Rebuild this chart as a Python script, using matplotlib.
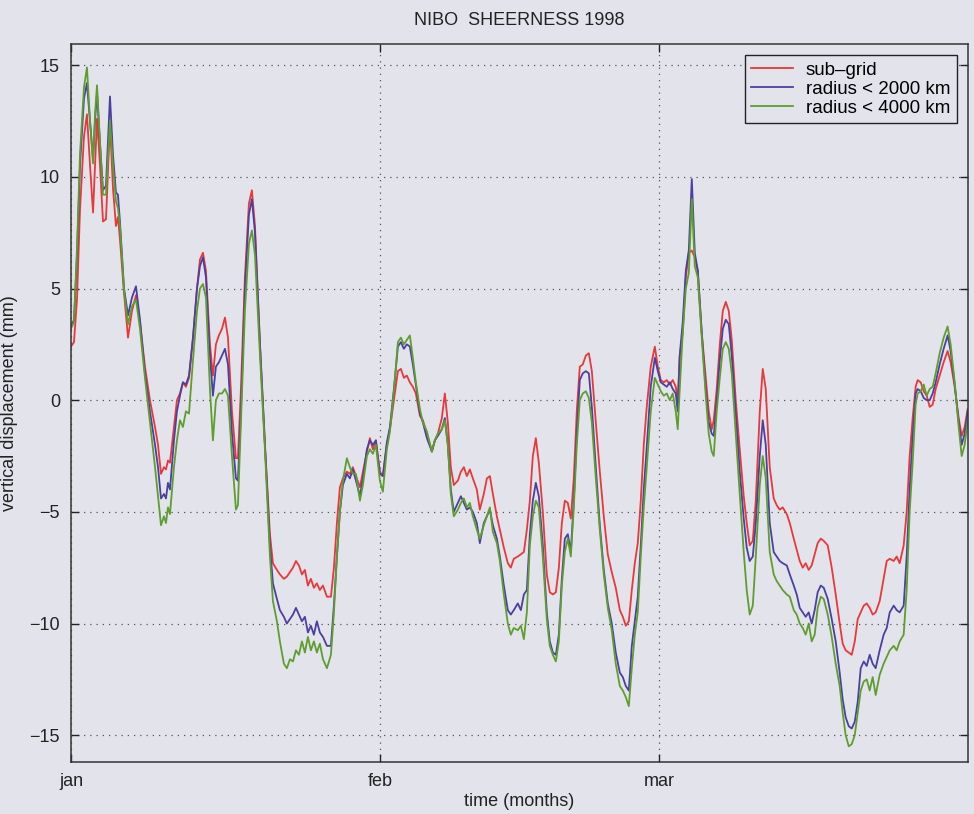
import matplotlib
matplotlib.use("Agg")
import matplotlib.pyplot as plt
import numpy as np

plt.rcParams['font.family'] = ['Liberation Sans', 'DejaVu Sans']

# time in days from 1 Jan 1998
days = [0.0, 0.30, 0.60, 0.90, 1.30, 1.60, 1.91, 2.21, 2.41, 2.61, 2.91, 3.21, 3.51, 3.91,
        4.21, 4.51, 4.71, 4.91, 5.32, 5.72, 6.12, 6.52, 6.92, 7.42, 7.92, 8.43, 8.73, 9.03,
        9.33, 9.53, 9.73, 9.93, 10.33, 10.63, 10.93, 11.23, 11.53, 11.84, 12.24, 12.64, 12.94,
        13.24, 13.54, 13.94, 14.24, 14.54, 14.84, 15.15, 15.45, 15.75, 16.15, 16.55, 16.75,
        17.05, 17.45, 17.85, 18.15, 18.46, 18.96, 19.46, 19.96, 20.26, 20.66, 20.96, 21.36,
        21.66, 21.97, 22.27, 22.57, 22.87, 23.17, 23.47, 23.77, 24.07, 24.37, 24.67, 24.97,
        25.28, 25.68, 26.08, 26.38, 26.68, 26.98, 27.28, 27.68, 27.98, 28.28, 28.59, 28.99,
        29.29, 29.69, 29.99, 30.29, 30.59, 30.99, 31.29, 31.69, 32.00, 32.40, 32.80, 33.10,
        33.40, 33.70, 34.00, 34.30, 34.60, 35.01, 35.31, 35.71, 36.21, 36.51, 36.81, 37.21,
        37.51, 37.81, 38.11, 38.41, 38.82, 39.12, 39.42, 39.72, 40.02, 40.32, 40.72, 41.02,
        41.42, 41.73, 42.03, 42.33, 42.73, 43.03, 43.43, 43.83, 44.13, 44.43, 44.83, 45.14,
        45.44, 45.74, 46.04, 46.34, 46.64, 46.94, 47.34, 47.74, 48.04, 48.35, 48.65, 48.95,
        49.25, 49.55, 49.85, 50.15, 50.45, 50.75, 51.05, 51.35, 51.66, 51.96, 52.26, 52.66,
        53.06, 53.46, 53.86, 54.26, 54.66, 55.07, 55.37, 55.67, 55.97, 56.27, 56.57, 56.87,
        57.17, 57.47, 57.77, 58.17, 58.58, 58.88, 59.18, 59.48, 59.78, 60.08, 60.38, 60.68,
        60.88, 61.08, 61.38, 61.69, 61.99, 62.29, 62.59, 62.89, 63.29, 63.69, 63.99, 64.29,
        64.49, 64.79, 65.10, 65.40, 65.70, 66.00, 66.30, 66.70, 67.10, 67.50, 67.80, 68.10,
        68.41, 68.71, 69.11, 69.41, 69.71, 70.11, 70.51, 70.81, 71.11, 71.41, 71.82, 72.12,
        72.52, 72.82, 73.12, 73.42, 73.72, 74.02, 74.32, 74.62, 74.92, 75.23, 75.53, 75.93,
        76.33, 76.73, 77.13, 77.43, 77.73, 78.04, 78.34, 78.64, 78.94, 79.24, 79.54, 79.84,
        80.14, 80.44, 80.74, 81.14, 81.54, 81.85, 82.15, 82.55, 82.85, 83.15, 83.55, 83.85,
        84.15, 84.45, 84.75, 84.95, 85.26, 85.56, 85.86, 86.16, 86.46, 86.76, 87.16, 87.56,
        87.96, 88.26, 88.67, 89.07, 89.37, 89.67, 89.97]

# sub-grid
sub_grid = [2.4, 2.6, 4.5, 8.5, 11.8, 12.8, 10.5, 8.4, 10.5, 12.6, 10.5, 8.0, 8.1, 12.4,
            9.5, 7.8, 8.2, 7.2, 4.8, 2.8, 4.0, 4.7, 3.5, 1.5, 0.0, -1.2, -2.0, -3.3,
            -3.0, -3.1, -2.7, -2.8, -1.2, 0.0, 0.3, 0.8, 0.6, 1.0, 2.8, 5.0, 6.3,
            6.6, 5.8, 2.5, 1.1, 2.5, 2.9, 3.2, 3.7, 2.8, -0.5, -2.6, -2.6,
            0.5, 5.5, 8.8, 9.4, 7.8, 2.5, -2.0, -6.0, -7.3, -7.6, -7.8, -8.0,
            -7.9, -7.7, -7.5, -7.2, -7.4, -7.8, -7.6, -8.3, -8.0, -8.4, -8.2, -8.5,
            -8.3, -8.8, -8.8, -7.5, -5.5, -3.9, -3.5, -3.2, -3.3, -3.0, -3.4, -3.9,
            -3.2, -2.3, -1.7, -2.2, -1.8, -3.2, -3.4, -2.0, -1.3, 0.0, 1.3, 1.4,
            1.0, 1.1, 0.8, 0.6, 0.3, -0.7, -0.9, -1.5, -2.3, -1.8, -1.5, -0.8,
            0.3, -1.0, -3.0, -3.8, -3.6, -3.2, -3.0, -3.4, -3.1, -3.5, -4.0, -4.9,
            -4.2, -3.5, -3.4, -4.2, -5.2, -5.8, -6.6, -7.3, -7.5, -7.1, -7.0, -6.9,
            -6.8, -5.8, -4.5, -2.5, -1.7, -2.8, -5.0, -7.8, -8.6, -8.7, -8.6, -7.5,
            -5.5, -4.5, -4.6, -5.3, -3.5, -0.5, 1.5, 1.6, 2.0, 2.1, 1.3, -1.0,
            -3.2, -5.2, -6.9, -7.7, -8.4, -9.4, -9.7, -10.1, -9.9, -8.5, -7.3, -6.4,
            -4.5, -2.0, -0.3, 1.5, 2.4, 1.5, 0.9, 0.8, 0.9, 0.7, 0.9, 0.6,
            0.0, 2.0, 3.0, 5.5, 6.6, 6.7, 6.4, 5.8, 3.0, 1.0, -0.5, -1.3,
            -0.9, 0.5, 2.5, 4.0, 4.4, 4.0, 2.7, 0.0, -2.2, -4.3, -5.5, -6.5,
            -6.3, -4.5, -0.5, 1.4, 0.5, -3.0, -4.4, -4.7, -4.9, -4.8, -5.1, -5.5,
            -6.2, -6.7, -7.2, -7.5, -7.3, -7.6, -7.4, -6.9, -6.4, -6.2, -6.3, -6.5,
            -7.5, -8.7, -10.0, -10.9, -11.2, -11.3, -11.4, -10.8, -9.8, -9.5, -9.2, -9.1,
            -9.3, -9.6, -9.5, -9.0, -8.0, -7.2, -7.1, -7.2, -7.0, -7.3, -6.5, -5.0,
            -2.5, -0.8, 0.6, 0.9, 0.8, 0.4, 0.2, -0.3, -0.2, 0.5, 1.1, 1.7,
            2.2, 1.7, 0.6, -0.8, -1.6, -1.2, -0.4]

# radius < 2000 km
radius_2000 = [3.3, 3.6, 6.5, 10.5, 13.5, 14.2, 12.5, 10.8, 12.5, 13.8, 11.5, 9.4, 9.6, 13.6,
               11.0, 9.3, 9.2, 8.0, 5.0, 3.8, 4.6, 5.1, 3.6, 1.2, -0.5, -2.0, -3.0, -4.4,
               -4.2, -4.4, -3.7, -4.0, -1.8, -0.5, 0.2, 0.8, 0.7, 1.1, 2.8, 5.0, 6.0,
               6.4, 5.5, 2.0, 0.2, 1.5, 1.7, 2.0, 2.3, 1.6, -1.5, -3.5, -3.6,
               -0.5, 5.0, 8.3, 9.0, 7.5, 2.5, -2.0, -6.5, -8.2, -8.9, -9.4, -9.7,
               -10.0, -9.8, -9.6, -9.3, -9.6, -9.9, -9.7, -10.4, -10.1, -10.5, -9.9, -10.4,
               -10.6, -11.0, -11.0, -9.2, -7.0, -5.0, -3.8, -3.3, -3.5, -3.1, -3.6, -4.3,
               -3.5, -2.2, -1.8, -2.0, -1.8, -3.3, -3.4, -1.9, -1.2, 0.5, 2.4, 2.6,
               2.3, 2.5, 2.4, 1.6, 0.7, -0.6, -1.0, -1.7, -2.3, -1.8, -1.6, -1.3,
               -0.8, -2.0, -4.0, -5.0, -4.6, -4.3, -4.6, -4.9, -4.8, -5.0, -5.5, -6.4,
               -5.5, -5.2, -4.9, -5.6, -6.2, -7.0, -8.3, -9.4, -9.6, -9.4, -9.1, -9.4,
               -8.7, -8.5, -6.0, -4.5, -3.7, -4.3, -6.5, -9.5, -10.8, -11.3, -11.4, -10.5,
               -8.0, -6.2, -6.0, -6.8, -4.5, -1.5, 0.9, 1.2, 1.3, 1.2, -0.3, -3.0,
               -5.6, -7.6, -9.1, -10.0, -11.3, -12.2, -12.4, -12.8, -13.0, -11.0, -9.9, -8.8,
               -6.5, -4.0, -2.1, 0.6, 1.9, 1.3, 0.8, 0.7, 0.6, 0.8, 0.5, 0.3,
               -0.5, 2.0, 3.5, 5.8, 6.7, 9.9, 6.6, 5.8, 3.0, 0.5, -1.0, -1.5,
               -1.6, 0.0, 1.8, 3.2, 3.6, 3.4, 2.0, -0.6, -3.2, -5.3, -6.6, -7.2,
               -7.0, -5.5, -2.5, -0.9, -2.0, -5.5, -6.8, -7.0, -7.2, -7.3, -7.4, -7.8,
               -8.3, -8.7, -9.3, -9.5, -9.7, -9.5, -10.0, -9.4, -8.6, -8.3, -8.4, -8.9,
               -9.8, -10.8, -12.2, -13.4, -14.2, -14.6, -14.7, -14.4, -13.5, -12.0, -11.7, -11.9,
               -11.4, -11.8, -12.0, -11.2, -10.5, -10.2, -9.5, -9.2, -9.4, -9.5, -9.2, -7.0,
               -4.0, -1.6, 0.3, 0.5, 0.4, 0.1, 0.0, 0.0, 0.3, 0.8, 1.6, 2.3,
               2.9, 2.2, 0.7, -1.0, -2.0, -1.5, -0.5]

# radius < 4000 km
radius_4000 = [3.2, 3.5, 6.8, 11.0, 14.0, 14.9, 12.5, 10.6, 12.8, 14.1, 11.5, 9.2, 9.2, 12.5,
               10.5, 8.9, 8.6, 7.8, 4.9, 3.4, 4.2, 4.5, 3.2, 1.0, -1.0, -3.0, -4.3, -5.6,
               -5.2, -5.5, -4.8, -5.1, -3.0, -1.8, -0.9, -1.2, -0.5, -0.6, 1.8, 4.0, 5.0,
               5.2, 4.6, 0.5, -1.8, 0.0, 0.3, 0.3, 0.5, 0.2, -2.5, -4.9, -4.7,
               -1.0, 4.0, 7.0, 7.6, 6.5, 2.0, -2.2, -7.0, -9.0, -9.9, -10.8, -11.8,
               -12.0, -11.6, -11.7, -11.2, -11.4, -10.8, -11.3, -10.6, -11.2, -10.8, -11.3, -10.9,
               -11.6, -12.0, -11.4, -9.5, -7.0, -5.0, -3.6, -2.6, -3.0, -3.3, -3.3, -4.5,
               -3.8, -2.5, -2.2, -2.4, -2.0, -3.6, -4.1, -2.2, -1.4, 0.4, 2.6, 2.8,
               2.5, 2.7, 2.9, 1.9, 0.8, -0.4, -1.0, -1.4, -2.3, -1.8, -1.5, -1.3,
               -0.9, -2.0, -4.2, -5.2, -4.9, -4.6, -4.4, -4.8, -4.6, -5.2, -5.8, -6.2,
               -5.6, -5.2, -4.8, -5.9, -6.4, -7.2, -8.7, -10.0, -10.5, -10.2, -10.3, -10.1,
               -10.7, -9.5, -6.5, -5.2, -4.5, -4.8, -7.0, -9.8, -11.0, -11.4, -11.7, -10.8,
               -8.3, -6.8, -6.2, -7.0, -4.8, -2.0, 0.0, 0.3, 0.4, 0.1, -1.0, -3.5,
               -5.8, -7.8, -9.3, -10.3, -11.8, -12.8, -13.0, -13.3, -13.7, -12.0, -10.5, -9.5,
               -7.0, -4.8, -3.0, -0.5, 1.0, 0.7, 0.4, 0.2, 0.3, 0.0, 0.3, -0.5,
               -1.3, 0.5, 3.0, 5.0, 5.7, 9.0, 6.0, 5.5, 2.8, 0.2, -1.5, -2.3,
               -2.5, -0.5, 1.0, 2.3, 2.6, 2.3, 1.2, -1.5, -4.2, -6.8, -8.5, -9.6,
               -9.2, -7.0, -3.8, -2.5, -3.5, -6.8, -7.8, -8.1, -8.3, -8.5, -8.7, -8.8,
               -9.4, -9.6, -10.0, -10.2, -10.5, -10.0, -10.8, -10.5, -9.3, -8.8, -8.9, -9.6,
               -10.6, -11.8, -12.8, -14.0, -15.0, -15.5, -15.4, -15.0, -14.0, -13.0, -12.6, -12.5,
               -13.0, -12.4, -13.2, -12.3, -11.8, -11.5, -11.2, -11.0, -11.2, -10.8, -10.5, -8.5,
               -5.0, -2.8, -0.2, 0.3, 0.4, 0.7, 0.2, 0.5, 0.6, 1.2, 2.1, 2.8,
               3.3, 2.5, 0.8, -1.2, -2.5, -2.0, -0.9]

month_ticks = [0, 31, 59]
month_labels = ['jan', 'feb', 'mar']

bg = '#e3e3eb'
fig = plt.figure(figsize=(9.74, 8.14), dpi=100, facecolor=bg)
ax = fig.add_axes([0.0729, 0.0639, 0.9209, 0.8821], facecolor=bg)

ax.plot(days, sub_grid, color='#e8383a', lw=1.3, label='sub\u2013grid')
ax.plot(days, radius_2000, color='#4a40a0', lw=1.3, label='radius < 2000 km')
ax.plot(days, radius_4000, color='#5e9e2e', lw=1.3, label='radius < 4000 km')

ax.set_xlim(0, 90)
ax.set_ylim(-16.2, 15.95)
ax.set_xticks(month_ticks)
ax.set_xticklabels(month_labels)
ax.set_yticks([-15, -10, -5, 0, 5, 10, 15])
ax.tick_params(direction='in', length=6, width=1, top=True, right=True,
               labelsize=13, colors='#222222', pad=8)
ax.grid(True, linestyle=(0, (1, 4)), color='#555555', linewidth=0.9)
for s in ax.spines.values():
    s.set_color('#333333')
    s.set_linewidth(1.1)

ax.set_title('NIBO  SHEERNESS 1998', fontsize=13, color='#222222', pad=14)
ax.set_xlabel('time (months)', fontsize=13, color='#222222', labelpad=2)
ax.set_ylabel('vertical displacement (mm)', fontsize=13, color='#222222', labelpad=8)

leg = ax.legend(loc='upper right', fontsize=13.5, frameon=True, fancybox=False,
                handlelength=2.2, handletextpad=0.7, borderaxespad=0.6,
                borderpad=0.35, labelspacing=0.1)
leg.get_frame().set_edgecolor('#222222')
leg.get_frame().set_facecolor(bg)
leg.get_frame().set_alpha(1)
leg.get_frame().set_linewidth(1.0)

fig.savefig('out.png', dpi=100, facecolor=bg)
